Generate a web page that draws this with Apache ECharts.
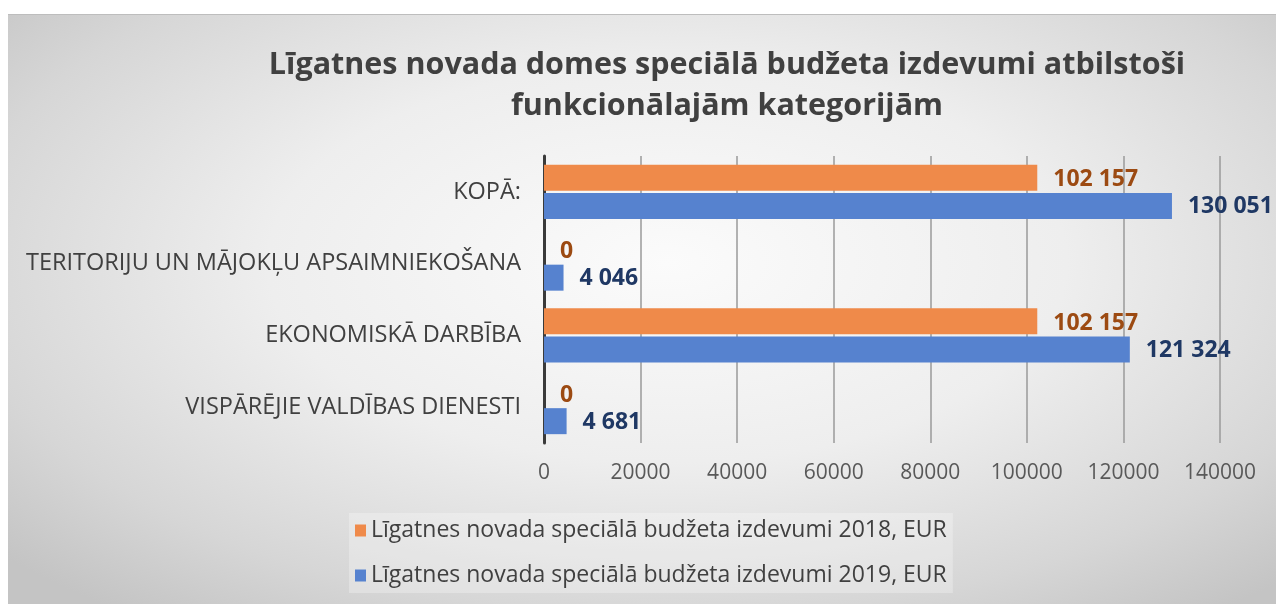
<!DOCTYPE html>
<html>
<head>
<meta charset="utf-8">
<script src="https://cdn.jsdelivr.net/npm/echarts@6/dist/echarts.min.js"></script>
<style>
html,body{margin:0;padding:0;background:#ffffff;width:1276px;height:604px;overflow:hidden;}
#panel{position:absolute;left:8px;top:14px;width:1268px;height:590px;
 background:radial-gradient(ellipse 70% 75% at 52% 42%, #fbfbfb 0%, #eeeeee 45%, #d6d6d6 80%, #c4c4c4 100%);
 border-top:1px solid #bdbdbd;}
#chart{position:absolute;left:0;top:0;width:1276px;height:604px;}
</style>
</head>
<body>
<div id="panel"></div>
<div id="chart"></div>
<script>
const titleText = 'Līgatnes novada domes speciālā budžeta izdevumi atbilstoši\nfunkcionālajām kategorijām';
const categories = ['VISPĀRĒJIE VALDĪBAS DIENESTI', 'EKONOMISKĀ DARBĪBA', 'TERITORIJU UN MĀJOKĻU APSAIMNIEKOŠANA', 'KOPĀ:'];
const seriesNames = ['Līgatnes novada speciālā budžeta izdevumi 2018, EUR', 'Līgatnes novada speciālā budžeta izdevumi 2019, EUR'];
const values2018 = [0, 102157, 0, 102157];
const values2019 = [4681, 121324, 4046, 130051];
const xTicks = [0, 20000, 40000, 60000, 80000, 100000, 120000, 140000];

const FONT = '"Open Sans"';
function fmt(v) { return String(v).replace(/\B(?=(\d{3})+(?!\d))/g, ' '); }

const chart = echarts.init(document.getElementById('chart'), null, {renderer: 'canvas'});
chart.setOption({
  backgroundColor: 'transparent',
  animation: false,
  title: {
    text: titleText,
    left: 727,
    top: 45,
    padding: 0,
    textAlign: 'center',
    textStyle: {fontFamily: FONT, fontWeight: 'bold', fontSize: 30.5, color: '#404040', lineHeight: 41}
  },
  legend: {
    orient: 'vertical',
    left: 349,
    top: 513,
    itemGap: 22,
    itemWidth: 11,
    itemHeight: 12,
    itemStyle: {borderWidth: 0},
    icon: 'rect',
    padding: [6, 6, 6, 6],
    backgroundColor: 'rgba(255,255,255,0.28)',
    data: seriesNames,
    textStyle: {fontFamily: FONT, fontSize: 23, color: '#404040', padding: [0, 0, 0, 0]}
  },
  grid: {left: 544, right: 56, top: 156, bottom: 161, containLabel: false},
  xAxis: {
    type: 'value',
    min: xTicks[0],
    max: xTicks[xTicks.length - 1],
    interval: 20000,
    axisLine: {show: false},
    axisTick: {show: false},
    splitLine: {show: true, lineStyle: {color: '#9a9a9a', width: 1.5}},
    axisLabel: {margin: 20, fontFamily: FONT, fontSize: 21, color: '#595959', formatter: v => String(v)}
  },
  yAxis: {
    type: 'category',
    data: categories,
    axisLine: {show: true, lineStyle: {color: '#3a3a3a', width: 3}},
    axisTick: {show: false},
    axisLabel: {margin: 23, fontFamily: FONT, fontSize: 23.5, color: '#404040'}
  },
  series: [
    {
      name: seriesNames[0], type: 'bar', data: values2018,
      barWidth: 26, barGap: '8%',
      itemStyle: {color: '#EF8A4A'},
      label: {show: true, position: 'right', distance: 16, fontFamily: FONT, fontWeight: 'bold', fontSize: 23, color: '#9C4A12',
        offset: [0, 2], formatter: p => fmt(p.value)}
    },
    {
      name: seriesNames[1], type: 'bar', data: values2019,
      barWidth: 26, barGap: '8%',
      itemStyle: {color: '#5682CF'},
      label: {show: true, position: 'right', distance: 16, fontFamily: FONT, fontWeight: 'bold', fontSize: 23, color: '#1F3864',
        offset: [0, 1], formatter: p => fmt(p.value)}
    }
  ]
});
</script>
</body>
</html>
